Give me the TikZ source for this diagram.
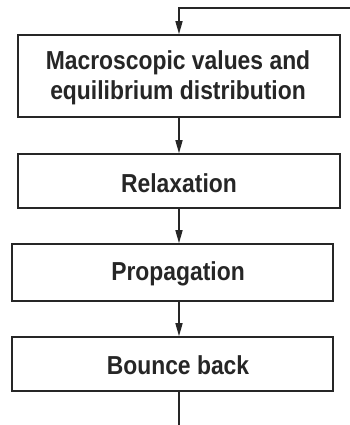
\documentclass[tikz,border=0pt]{standalone}
\usepackage{fontspec}
\setmainfont{Liberation Sans}
\newfontfamily\labfont[FakeStretch=0.88]{Liberation Sans}
\usetikzlibrary{arrows.meta}
\begin{document}
\begin{tikzpicture}[x=1pt,y=-1pt,
  boxst/.style={draw=black!85, line width=1.6pt, rectangle, inner sep=0pt},
  lbl/.style={font=\labfont\fontsize{26}{30.5}\selectfont\bfseries, text=black!85, align=center, inner sep=0pt},
  flow/.style={draw=black!85, line width=1.5pt, -{Triangle[length=13pt,width=7pt]}},
  plain/.style={draw=black!85, line width=1.5pt}]
\useasboundingbox (0,0) rectangle (350,425);
\fill[white] (0,0) rectangle (350,425);
% boxes
\node[boxst, minimum width=322pt, minimum height=82pt] (b1) at (179,76) {};
\node[boxst, minimum width=322pt, minimum height=54pt] (b2) at (179,181) {};
\node[boxst, minimum width=321pt, minimum height=57pt] (b3) at (172.5,272.5) {};
\node[boxst, minimum width=321pt, minimum height=54pt] (b4) at (172.5,364) {};
% labels
\node[lbl] (t1) at (178,78) {Macroscopic values and\\equilibrium distribution};
\node[lbl] (t2) at (179,183) {Relaxation};
\node[lbl] (t3) at (178,274) {Propagation};
\node[lbl] (t4) at (178,365) {Bounce back};
% connectors
\coordinate (ret) at (350,8);
\coordinate (out) at (179,425);
\draw[flow] (ret) -| (b1.north);
\draw[flow] (b1.south) -- (b2.north);
\draw[flow] (b2.south) -- (b2.south |- b3.north);
\draw[flow] (b2.south |- b3.south) -- (b2.south |- b4.north);
\draw[plain] (b2.south |- b4.south) -- (out);
\end{tikzpicture}
\end{document}
